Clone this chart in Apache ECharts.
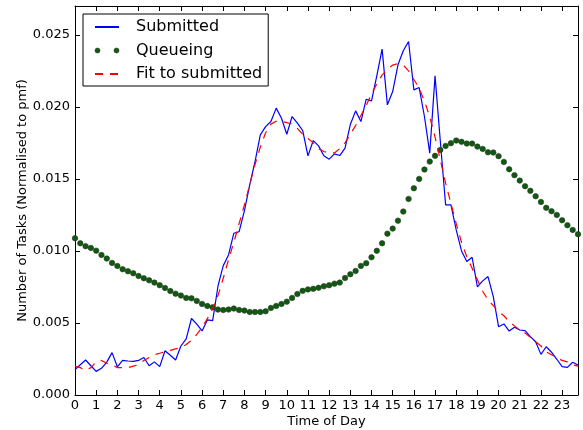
<!DOCTYPE html>
<html><head><meta charset="utf-8">
<script src="https://cdn.jsdelivr.net/npm/echarts@6/dist/echarts.min.js"></script>
<style>html,body{margin:0;padding:0;background:#fff}#c{width:583px;height:430px}</style>
</head><body><div id="c"></div>
<script>
const hours = [0,0.25,0.5,0.75,1,1.25,1.5,1.75,2,2.25,2.5,2.75,3,3.25,3.5,3.75,4,4.25,4.5,4.75,5,5.25,5.5,5.75,6,6.25,6.5,6.75,7,7.25,7.5,7.75,8,8.25,8.5,8.75,9,9.25,9.5,9.75,10,10.25,10.5,10.75,11,11.25,11.5,11.75,12,12.25,12.5,12.75,13,13.25,13.5,13.75,14,14.25,14.5,14.75,15,15.25,15.5,15.75,16,16.25,16.5,16.75,17,17.25,17.5,17.75,18,18.25,18.5,18.75,19,19.25,19.5,19.75,20,20.25,20.5,20.75,21,21.25,21.5,21.75,22,22.25,22.5,22.75,23,23.25,23.5,23.75];
const submitted = [0.00176,0.00210,0.00243,0.00203,0.00164,0.00185,0.00228,0.00294,0.00196,0.00240,0.00236,0.00234,0.00240,0.00260,0.00203,0.00230,0.00197,0.00307,0.00276,0.00243,0.00340,0.00390,0.00531,0.00492,0.00445,0.00521,0.00516,0.00755,0.00898,0.00972,0.01123,0.01134,0.01280,0.01458,0.01620,0.01806,0.01863,0.01898,0.01991,0.01921,0.01810,0.01933,0.01887,0.01836,0.01660,0.01766,0.01729,0.01660,0.01637,0.01674,0.01662,0.01713,0.01877,0.01972,0.01898,0.02053,0.02042,0.02215,0.02401,0.02014,0.02106,0.02292,0.02389,0.02454,0.02118,0.02134,0.01933,0.01679,0.02215,0.01760,0.01319,0.01319,0.01146,0.01000,0.00926,0.00956,0.00750,0.00792,0.00822,0.00683,0.00474,0.00493,0.00444,0.00470,0.00451,0.00447,0.00405,0.00370,0.00282,0.00335,0.00297,0.00248,0.00197,0.00192,0.00227,0.00208];
const queueing = [0.01088,0.01053,0.01033,0.01021,0.01002,0.00972,0.00947,0.00917,0.00896,0.00873,0.00859,0.00845,0.00826,0.00810,0.00796,0.00780,0.00762,0.00743,0.00722,0.00703,0.00690,0.00674,0.00671,0.00653,0.00632,0.00618,0.00609,0.00593,0.00590,0.00593,0.00600,0.00590,0.00586,0.00576,0.00576,0.00576,0.00581,0.00604,0.00618,0.00632,0.00648,0.00674,0.00701,0.00723,0.00733,0.00737,0.00744,0.00755,0.00762,0.00773,0.00780,0.00812,0.00838,0.00861,0.00896,0.00915,0.00956,0.01001,0.01053,0.01120,0.01155,0.01210,0.01273,0.01361,0.01435,0.01500,0.01565,0.01620,0.01660,0.01701,0.01729,0.01748,0.01766,0.01757,0.01745,0.01745,0.01724,0.01708,0.01685,0.01683,0.01658,0.01618,0.01567,0.01526,0.01488,0.01449,0.01417,0.01380,0.01340,0.01299,0.01276,0.01250,0.01213,0.01178,0.01146,0.01116];
const fit = [0.0020,0.0019,0.0017,0.0019,0.0023,0.0024,0.0022,0.0021,0.0019,0.0019,0.0019,0.0020,0.0021,0.0024,0.0026,0.0028,0.0029,0.0030,0.0031,0.0032,0.0033,0.0035,0.0038,0.0042,0.0047,0.0053,0.0060,0.0069,0.0081,0.0094,0.0106,0.0119,0.0132,0.0146,0.0160,0.0172,0.0182,0.0188,0.0190,0.0190,0.0189,0.0188,0.0185,0.0181,0.0178,0.0175,0.0171,0.0169,0.0168,0.0168,0.0171,0.0175,0.0181,0.0187,0.0194,0.0201,0.0209,0.0216,0.0222,0.0226,0.0229,0.0230,0.0229,0.0225,0.0219,0.0213,0.0204,0.0193,0.0179,0.0163,0.0147,0.0133,0.0119,0.0106,0.0096,0.0088,0.0080,0.0072,0.0066,0.0062,0.0058,0.0055,0.0051,0.0048,0.0045,0.0043,0.0040,0.0037,0.0034,0.0030,0.0028,0.0026,0.0024,0.0023,0.0021,0.0020];
const xTicks = [0,1,2,3,4,5,6,7,8,9,10,11,12,13,14,15,16,17,18,19,20,21,22,23];
const yTicks = [0,0.005,0.010,0.015,0.020,0.025];
const seriesNames = ['Submitted','Queueing','Fit to submitted'];

const pair = arr => hours.map((h,i)=>[h,arr[i]]);
const font = 'DejaVu Sans';
const axisLine = {show:true, onZero:false, lineStyle:{color:'#000', width:1}};
const tick = {show:true, inside:true, length:5, lineStyle:{color:'#000', width:1}};
const hideSym = {color:'rgba(0,0,0,0)', borderWidth:0, opacity:0};

const chart = echarts.init(document.getElementById('c'), null, {renderer:'canvas'});
chart.setOption({
  animation:false,
  backgroundColor:'#fff',
  textStyle:{fontFamily:font},
  grid:{left:75, right:5, top:6, bottom:35, containLabel:false, outerBoundsMode:'none', show:false},
  legend:{
    orient:'vertical', left:83, top:14,
    backgroundColor:'#fff', borderColor:'#000', borderWidth:1, borderRadius:0,
    padding:[5,6,4,11], itemGap:7.5, itemWidth:24, itemHeight:5,
    textStyle:{fontFamily:font, fontSize:16, color:'#000', padding:[0,0,0,12], lineHeight:16},
    data:[
      {name:seriesNames[0], itemStyle:hideSym},
      {name:seriesNames[1], icon:'path://M0,2.5a2.5,2.5 0 1,0 5,0a2.5,2.5 0 1,0 -5,0M19,2.5a2.5,2.5 0 1,0 5,0a2.5,2.5 0 1,0 -5,0', itemStyle:{color:'#0b5d0b', borderColor:'#333', borderWidth:0.6}},
      {name:seriesNames[2], itemStyle:hideSym}
    ]
  },
  xAxis:[{
    type:'value', min:0, max:23.75, position:'bottom',
    name:'Time of Day', nameLocation:'middle', nameGap:20, nameMoveOverlap:false,
    nameTextStyle:{fontFamily:font, fontSize:13, color:'#000'},
    axisLine:axisLine, axisTick:Object.assign({customValues:xTicks}, tick),
    axisLabel:{customValues:xTicks, margin:4, fontFamily:font, fontSize:13, color:'#000'},
    splitLine:{show:false}
  },{
    type:'value', min:0, max:23.75, position:'top',
    axisLine:axisLine, axisTick:Object.assign({customValues:xTicks}, tick),
    axisLabel:{show:false}, splitLine:{show:false}
  }],
  yAxis:[{
    type:'value', min:0, max:0.027, position:'left',
    name:'Number of Tasks (Normalised to pmf)', nameLocation:'middle', nameGap:46, nameMoveOverlap:false,
    nameTextStyle:{fontFamily:font, fontSize:13, color:'#000'},
    axisLine:axisLine, axisTick:Object.assign({customValues:yTicks}, tick),
    axisLabel:{customValues:yTicks, margin:5, fontFamily:font, fontSize:13, color:'#000',
      formatter:v=>v.toFixed(3)},
    splitLine:{show:false}
  },{
    type:'value', min:0, max:0.027, position:'right',
    axisLine:axisLine, axisTick:Object.assign({customValues:yTicks}, tick),
    axisLabel:{show:false}, splitLine:{show:false}
  }],
  series:[
    {name:seriesNames[0], type:'line', data:pair(submitted), symbol:'none',
     lineStyle:{color:'#0000ff', width:1.2}, itemStyle:{color:'#0000ff'}, z:2},
    {name:seriesNames[1], type:'scatter', data:pair(queueing), symbol:'circle', symbolSize:5.5,
     itemStyle:{color:'#0b5d0b', borderColor:'#333', borderWidth:0.6, opacity:1}, z:3},
    {name:seriesNames[2], type:'line', data:pair(fit), symbol:'none', smooth:false,
     lineStyle:{color:'#ff0000', width:1.2, type:[8,7]}, itemStyle:{color:'#ff0000'}, z:4}
  ]
});
</script>
</body></html>
